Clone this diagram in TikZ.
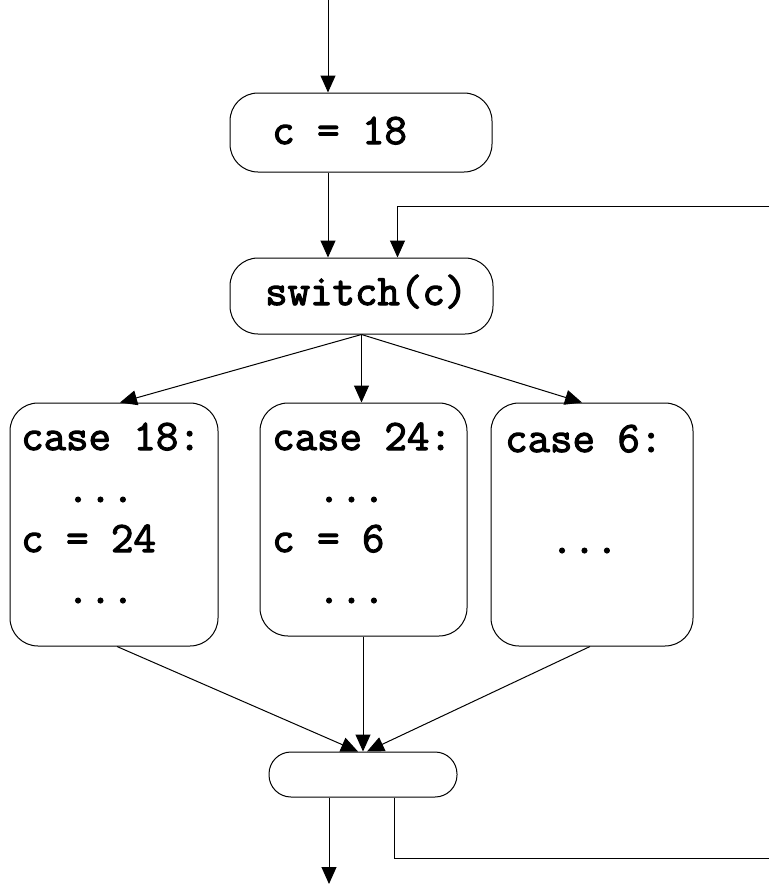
\documentclass[tikz,border=0pt]{standalone}
\usepackage{fontspec}
\newfontfamily\codefont{Latin Modern Mono}[FakeBold=2.5]
\usetikzlibrary{arrows.meta}
\begin{document}
\begin{tikzpicture}[x=1pt,y=-1pt,
  box/.style={draw, line width=1pt, rounded corners=28pt, inner sep=0pt},
  flow/.style={draw, line width=1pt, -{Triangle[length=17pt,width=15pt]}},
  link/.style={draw, line width=1pt},
  code/.style={font=\codefont\fontsize{43.6}{50}\selectfont, inner sep=0pt, anchor=base west}]
\useasboundingbox (0,0) rectangle (769,884);

% boxes
\node[box, minimum width=262pt, minimum height=79pt] (init) at (361,132.5) {};
\node[box, minimum width=263pt, minimum height=76pt] (switch) at (361.5,296) {};
\node[box, minimum width=208pt, minimum height=243pt] (c18) at (114,524.5) {};
\node[box, minimum width=207pt, minimum height=233pt] (c24) at (363.5,519.5) {};
\node[box, minimum width=202pt, minimum height=243pt] (c6) at (592,524.5) {};
\node[box, rounded corners=22pt, minimum width=188pt, minimum height=45pt] (join) at (363,774.5) {};

% texts
\node[code] (tinit) at (272,144) {c = 18};
\node[code] (tswitch) at (265,305) {switch(c)};

\node[code] (a1) at (21,450) {case 18:};
\node[code] (a2) at (66.6,502) {...};
\node[code] (a3) at (21,552) {c = 24};
\node[code] (a4) at (66.6,603) {...};

\node[code] (b1) at (272,450) {case 24:};
\node[code] (b2) at (317.6,502) {...};
\node[code] (b3) at (272,552) {c = 6};
\node[code] (b4) at (317.6,603) {...};

\node[code] (d1) at (505,452) {case 6:};
\node[code] (d2) at (550.6,553) {...};

% free ends at the picture border
\coordinate (entry) at (328,0);
\coordinate (exit) at (329,884);
\coordinate (loopin) at (769,206);
\coordinate (loopout) at (769,858);

% connectors
\draw[flow] (entry) -- (entry |- init.north);
\draw[flow] (entry |- init.south) -- (entry |- switch.north);
\draw[flow] (loopin) -| ([xshift=36pt]switch.north);

\draw[flow] (switch.south) -- ([xshift=6pt]c18.north);
\draw[flow] (switch.south) -- (switch.south |- c24.north);
\draw[flow] (switch.south) -- ([xshift=-10pt]c6.north);

\draw[flow] ([xshift=3pt]c18.south) -- ([xshift=-5pt]join.north);
\draw[flow] (c24.south -| join.north) -- (join.north);
\draw[flow] ([xshift=-2pt]c6.south) -- ([xshift=4pt]join.north);

\draw[flow] (exit |- join.south) -- (exit);
\draw[link] ([xshift=31pt]join.south) |- (loopout);
\end{tikzpicture}
\end{document}
